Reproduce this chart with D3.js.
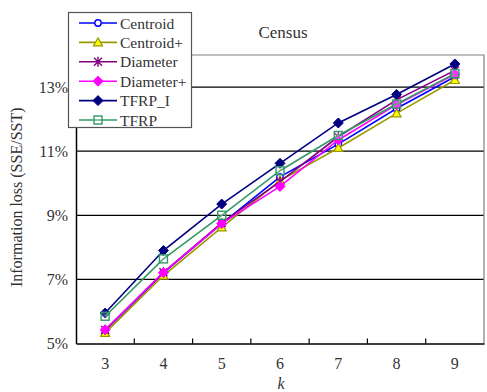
<!DOCTYPE html>
<html>
<head>
<meta charset="utf-8">
<script src="https://cdn.jsdelivr.net/npm/d3@7"></script>
<style>
  html, body { margin: 0; padding: 0; background: #fff; }
  svg text { font-family: "Liberation Serif", "Times New Roman", Tinos, "DejaVu Serif", serif !important; }
</style>
</head>
<body>
<svg id="chart" width="487" height="392"></svg>
<script>
// k values on the x axis
const categories = [3, 4, 5, 6, 7, 8, 9];
// information loss (%) per method
const centroid  = [5.40, 7.20, 8.74, 10.20, 11.22, 12.33, 13.32];
const centroidP = [5.33, 7.12, 8.62, 10.08, 11.10, 12.18, 13.22];
const diameter  = [5.42, 7.22, 8.76, 10.05, 11.45, 12.60, 13.52];
const diameterP = [5.43, 7.21, 8.74, 9.90, 11.35, 12.45, 13.40];
const tfrpI     = [5.95, 7.90, 9.35, 10.62, 11.88, 12.77, 13.72];
const tfrp      = [5.85, 7.64, 9.00, 10.39, 11.49, 12.47, 13.42];
const yTicks = [5, 7, 9, 11, 13];
const seriesNames = ["Centroid", "Centroid+", "Diameter", "Diameter+", "TFRP_I", "TFRP"];

const series = [
  { name: seriesNames[0], values: centroid,  color: "#0000ff", marker: "circle" },
  { name: seriesNames[1], values: centroidP, color: "#999900", marker: "triangle" },
  { name: seriesNames[2], values: diameter,  color: "#800080", marker: "star" },
  { name: seriesNames[3], values: diameterP, color: "#ff00ff", marker: "diamondFill" },
  { name: seriesNames[4], values: tfrpI,     color: "#000080", marker: "diamondFill" },
  { name: seriesNames[5], values: tfrp,      color: "#339966", marker: "square" }
];

const svg = d3.select("#chart");
const plot = { left: 76, right: 484, top: 55, bottom: 343.5 };

const x = d3.scaleBand().domain(categories).range([plot.left, plot.right]);
const y = d3.scaleLinear().domain([5, 14]).range([plot.bottom, plot.top]);
const cx = k => x(k) + x.bandwidth() / 2;

// horizontal gridlines
svg.append("g")
  .selectAll("line")
  .data(yTicks.filter(t => t > 5))
  .join("line")
  .attr("x1", plot.left).attr("x2", plot.right)
  .attr("y1", d => y(d)).attr("y2", d => y(d))
  .attr("stroke", "#000").attr("stroke-width", 1.2);

// plot-area frame (top and right)
svg.append("path")
  .attr("d", `M${plot.left},${plot.top}H${plot.right}V${plot.bottom}`)
  .attr("fill", "none").attr("stroke", "#808080").attr("stroke-width", 1.2);

// y axis
const yAxis = svg.append("g")
  .attr("transform", `translate(${plot.left},0)`)
  .call(d3.axisLeft(y).tickValues(yTicks).tickSize(0).tickPadding(8)
        .tickFormat(d => d + "%"));
yAxis.select(".domain").attr("stroke", "#000").attr("stroke-width", 1.5);
yAxis.selectAll("text").style("font-size", "16px").attr("fill", "#333");

// x axis: ticks sit on category boundaries, pointing into the plot
const xAxis = svg.append("g")
  .attr("transform", `translate(0,${plot.bottom})`)
  .call(d3.axisBottom(x).tickSize(0).tickPadding(14));
xAxis.select(".domain").attr("stroke", "#000").attr("stroke-width", 1.5);
xAxis.selectAll("text").style("font-size", "16px").attr("fill", "#333");
svg.append("g")
  .selectAll("line")
  .data(categories.slice(1))
  .join("line")
  .attr("x1", d => x(d)).attr("x2", d => x(d))
  .attr("y1", plot.bottom).attr("y2", plot.bottom - 5)
  .attr("stroke", "#000").attr("stroke-width", 1.2);

// marker drawing
function drawMarker(g, type, color, px, py) {
  if (type === "circle") {
    g.append("circle").attr("cx", px).attr("cy", py).attr("r", 3.2)
      .attr("fill", "#fff").attr("stroke", color).attr("stroke-width", 1.4);
  } else if (type === "triangle") {
    g.append("path").attr("d", `M${px},${py - 4.5}L${px + 4.5},${py + 3.5}L${px - 4.5},${py + 3.5}Z`)
      .attr("fill", "#ffff00").attr("stroke", color).attr("stroke-width", 1.2);
  } else if (type === "star") {
    const s = 4;
    g.append("path")
      .attr("d", `M${px - s},${py - s}L${px + s},${py + s}M${px - s},${py + s}L${px + s},${py - s}M${px},${py - s - 1}V${py + s + 1}`)
      .attr("stroke", color).attr("stroke-width", 1.4).attr("fill", "none");
  } else if (type === "diamondFill") {
    const s = 5;
    g.append("path").attr("d", `M${px},${py - s}L${px + s},${py}L${px},${py + s}L${px - s},${py}Z`)
      .attr("fill", color).attr("stroke", color).attr("stroke-width", 1);
  } else if (type === "square") {
    g.append("rect").attr("x", px - 4).attr("y", py - 4).attr("width", 8).attr("height", 8)
      .attr("fill", "#fff").attr("fill-opacity", 0.2).attr("stroke", color).attr("stroke-width", 1.4);
  }
}

// series lines and markers
const line = d3.line().x((d, i) => cx(categories[i])).y(d => y(d));
series.forEach(s => {
  const g = svg.append("g");
  g.append("path").datum(s.values).attr("d", line)
    .attr("fill", "none").attr("stroke", s.color).attr("stroke-width", 1.6);
  s.values.forEach((v, i) => drawMarker(g, s.marker, s.color, cx(categories[i]), y(v)));
});

// title
svg.append("text").attr("x", 283).attr("y", 38).attr("text-anchor", "middle")
  .style("font-size", "17px").attr("fill", "#333").text("Census");

// axis titles
svg.append("text")
  .attr("transform", `translate(22,${(plot.top + plot.bottom) / 2 - 2}) rotate(-90)`)
  .attr("text-anchor", "middle").style("font-size", "16px").attr("fill", "#333")
  .text("Information loss (SSE/SST)");
svg.append("text").attr("x", 281).attr("y", 389).attr("text-anchor", "middle")
  .style("font-size", "16px").style("font-style", "italic").attr("fill", "#333").text("k");

// legend
const lg = svg.append("g");
lg.append("rect").attr("x", 68.5).attr("y", 12.5).attr("width", 123).attr("height", 115)
  .attr("fill", "#fff").attr("stroke", "#555").attr("stroke-width", 1.2);
series.forEach((s, i) => {
  const ly = 23 + i * 19.4;
  lg.append("line").attr("x1", 79).attr("x2", 117).attr("y1", ly).attr("y2", ly)
    .attr("stroke", s.color).attr("stroke-width", 1.6);
  drawMarker(lg, s.marker, s.color, 98, ly);
  lg.append("text").attr("x", 120).attr("y", ly + 5.5).style("font-size", "15.5px")
    .attr("fill", "#333").text(s.name);
});
</script>
</body>
</html>
